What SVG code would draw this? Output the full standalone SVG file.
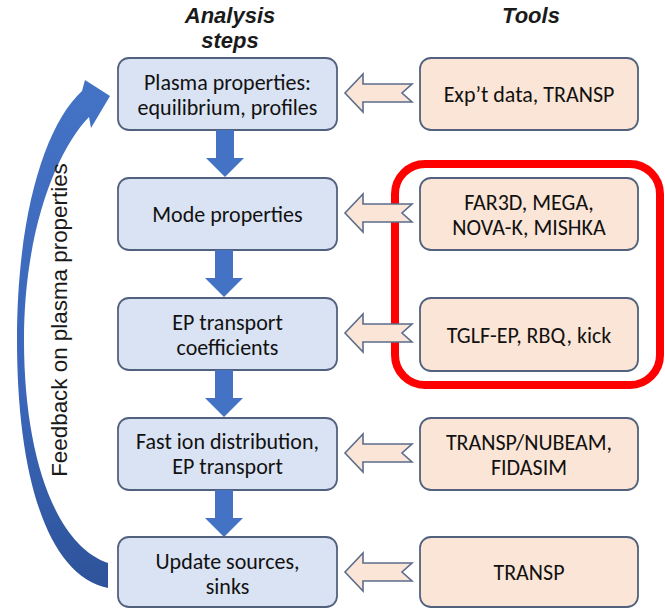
<svg xmlns="http://www.w3.org/2000/svg" width="665" height="609" viewBox="0 0 665 609">
<style>
.step rect{fill:#DAE3F3;stroke:#52627E;stroke-width:1.8}
.tool rect{fill:#FBE5D6;stroke:#52627E;stroke-width:1.8}
.lbl{font-family:Carlito,Lato,"Liberation Sans",sans-serif;font-size:22px;fill:#111;text-anchor:middle}
.hdr{font-family:"Liberation Sans",Arial,sans-serif;font-size:22px;font-weight:bold;font-style:italic;fill:#1a1a1a;text-anchor:middle}
.hollow{fill:#FBE5D6;stroke:#5B6C8C;stroke-width:1.6;stroke-linejoin:miter}
.down{fill:#4472C4}
</style>
<defs>
<linearGradient id="fb" gradientUnits="userSpaceOnUse" x1="0" y1="90" x2="0" y2="590">
<stop offset="0" stop-color="#4472C4"/>
<stop offset="0.6" stop-color="#3B66BA"/>
<stop offset="1" stop-color="#2D5399"/>
</linearGradient>
<path id="ha" d="M0,0 L18,-19 L18,-9 L67,-9 L57,0 L67,9 L18,9 L18,19 Z"/>
<path id="da" d="M-9,0 L9,0 L9,28 L19,28 L0,47 L-19,28 L-9,28 Z"/>
</defs>

<text class="hdr" x="230" y="23">Analysis</text>
<text class="hdr" x="230" y="48">steps</text>
<text class="hdr" x="531" y="23">Tools</text>

<g id="step1" class="step"><rect x="118" y="58" width="219" height="72" rx="11"/>
<text class="lbl" x="227.5" y="90">Plasma properties:</text>
<text class="lbl" x="227.5" y="115">equilibrium, profiles</text></g>
<g id="step2" class="step"><rect x="118" y="178" width="219" height="72" rx="11"/>
<text class="lbl" x="227.5" y="222">Mode properties</text></g>
<g id="step3" class="step"><rect x="118" y="298" width="219" height="72" rx="11"/>
<text class="lbl" x="227.5" y="330">EP transport</text>
<text class="lbl" x="227.5" y="355">coefficients</text></g>
<g id="step4" class="step"><rect x="118" y="418" width="219" height="72" rx="11"/>
<text class="lbl" x="227.5" y="449">Fast ion distribution,</text>
<text class="lbl" x="227.5" y="474">EP transport</text></g>
<g id="step5" class="step"><rect x="118" y="537" width="219" height="70" rx="11"/>
<text class="lbl" x="227.5" y="569">Update sources,</text>
<text class="lbl" x="227.5" y="594">sinks</text></g>

<g id="tool1" class="tool"><rect x="420" y="58" width="218" height="72" rx="11"/>
<text class="lbl" x="529" y="102">Exp’t data, TRANSP</text></g>
<g id="tool2" class="tool"><rect x="420" y="178" width="218" height="72" rx="11"/>
<text class="lbl" x="529" y="210">FAR3D, MEGA,</text>
<text class="lbl" x="529" y="235">NOVA-K, MISHKA</text></g>
<g id="tool3" class="tool"><rect x="420" y="298" width="218" height="73" rx="11"/>
<text class="lbl" x="529" y="343">TGLF-EP, RBQ, kick</text></g>
<g id="tool4" class="tool"><rect x="420" y="418" width="218" height="72" rx="11"/>
<text class="lbl" x="529" y="450">TRANSP/NUBEAM,</text>
<text class="lbl" x="529" y="475">FIDASIM</text></g>
<g id="tool5" class="tool"><rect x="420" y="537" width="218" height="70" rx="11"/>
<text class="lbl" x="529" y="580">TRANSP</text></g>

<g id="highlight"><rect x="395" y="164" width="265" height="221" rx="30" fill="none" stroke="#FF0000" stroke-width="8"/></g>

<g id="connectors">
<use href="#ha" class="hollow" x="345" y="93"/>
<use href="#ha" class="hollow" x="345" y="213"/>
<use href="#ha" class="hollow" x="345" y="333"/>
<use href="#ha" class="hollow" x="345" y="453"/>
<use href="#ha" class="hollow" x="345" y="572"/>
<use href="#da" class="down" x="225" y="130"/>
<use href="#da" class="down" x="224" y="250"/>
<use href="#da" class="down" x="224" y="370"/>
<use href="#da" class="down" x="224" y="490"/>
<g id="feedback">
<path d="M108,588 C45,575 17,470 17,340 C17,215 45,125 82,91 L85,80 L110,96 L91,128 L89,117 C57,150 24,230 24,340 C24,455 55,545 108,563 Z" fill="url(#fb)"/>
<text transform="translate(66.5,320) rotate(-90)" x="0" y="0" style="font-family:'Liberation Sans',Arial,sans-serif;font-size:22.4px;fill:#1a1a1a;text-anchor:middle">Feedback on plasma properties</text>
</g>
</g>
</svg>
